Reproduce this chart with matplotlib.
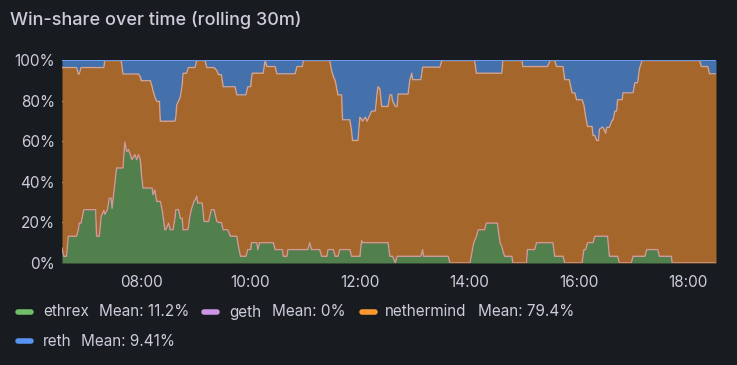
import matplotlib
matplotlib.use("Agg")
import matplotlib.pyplot as plt
import matplotlib.dates as mdates
from matplotlib.lines import Line2D
import numpy as np
import pandas as pd

plt.rcParams['font.family'] = ['Inter', 'DejaVu Sans']

title = "Win-share over time (rolling 30m)"

times = [
    "06:33", "06:35", "06:38", "06:40", "06:49", "06:51", "06:52", "06:54", "06:57", "07:10",
    "07:11", "07:14", "07:16", "07:19", "07:20", "07:23", "07:25", "07:27", "07:28", "07:30",
    "07:33", "07:38", "07:40", "07:42", "07:44", "07:46", "07:48", "07:50", "07:53", "07:55",
    "07:57", "07:59", "08:00", "08:01", "08:02", "08:10", "08:12", "08:13", "08:15", "08:17",
    "08:20", "08:21", "08:23", "08:26", "08:27", "08:30", "08:32", "08:35", "08:37", "08:38",
    "08:39", "08:41", "08:43", "08:45", "08:46", "08:50", "08:51", "08:52", "08:53", "08:55",
    "08:58", "08:59", "09:01", "09:02", "09:07", "09:09", "09:10", "09:12", "09:14", "09:17",
    "09:20", "09:23", "09:25", "09:28", "09:30", "09:35", "09:38", "09:43", "09:45", "09:46",
    "09:49", "09:55", "09:57", "10:00", "10:01", "10:02", "10:07", "10:08", "10:10", "10:14",
    "10:16", "10:18", "10:25", "10:27", "10:29", "10:35", "10:36", "10:40", "10:41", "10:49",
    "10:51", "10:57", "10:58", "11:03", "11:05", "11:07", "11:16", "11:18", "11:24", "11:25",
    "11:27", "11:29", "11:31", "11:33", "11:36", "11:38", "11:40", "11:41", "11:49", "11:51",
    "11:52", "11:58", "12:00", "12:02", "12:03", "12:06", "12:08", "12:10", "12:13", "12:17",
    "12:19", "12:20", "12:22", "12:24", "12:31", "12:33", "12:35", "12:36", "12:39", "12:41",
    "12:42", "12:53", "12:55", "12:57", "12:58", "13:07", "13:09", "13:10", "13:28", "13:30",
    "13:37", "13:39", "14:01", "14:05", "14:06", "14:08", "14:10", "14:17", "14:19", "14:31",
    "14:34", "14:36", "14:37", "14:39", "14:47", "14:48", "14:58", "14:59", "15:03", "15:04",
    "15:12", "15:14", "15:26", "15:29", "15:32", "15:34", "15:36", "15:43", "15:45", "15:50",
    "15:53", "15:56", "15:58", "16:04", "16:06", "16:07", "16:08", "16:10", "16:15", "16:16",
    "16:18", "16:20", "16:22", "16:23", "16:26", "16:27", "16:30", "16:31", "16:32", "16:34",
    "16:37", "16:38", "16:40", "16:42", "16:43", "16:45", "16:48", "16:49", "16:58", "17:00",
    "17:02", "17:05", "17:07", "17:10", "17:13", "17:15", "17:27", "17:29", "17:42", "17:43",
    "18:13", "18:15", "18:22", "18:24", "18:31",
]

ethrex = [
    7.4, 3.3, 3.3, 13.2, 13.2, 16.5, 19.7, 19.7, 26.3, 26.3,
    13.2, 13.2, 23, 26, 24, 26.3, 32, 32, 27, 35,
    46.9, 46.9, 46.9, 59.7, 55, 56, 53.5, 51, 53.5, 51,
    53.5, 51, 45, 41, 37, 37, 37, 33.7, 36, 30.4,
    30.4, 30.4, 26.3, 16.4, 16.4, 19.7, 16.4, 16.4, 22, 26.3,
    26.3, 26.3, 22, 22, 16.4, 16.4, 16.4, 18, 22, 26.3,
    30.4, 31, 33, 29.6, 29.6, 20.5, 20.5, 20.5, 20.5, 26.3,
    26.3, 20.5, 20, 20, 16.4, 16.4, 13.2, 13.2, 13.2, 10,
    3.3, 3.3, 6.6, 6.6, 10, 10, 10, 6.6, 10, 10,
    10, 10, 10, 6.6, 6.6, 6.6, 3.3, 3.3, 6.6, 6.6,
    6.6, 6.6, 6.6, 6.6, 10, 6.6, 6.6, 3.3, 3.3, 6.6,
    6.6, 6.6, 6.6, 3.3, 3.3, 6.6, 6.6, 6.6, 6.6, 3.3,
    3.3, 3.3, 3.3, 11, 10, 10, 10, 10, 10, 10,
    10, 10, 10, 10, 10, 3.3, 3.3, 3.3, 0, 3.3,
    3.3, 3.3, 3.3, 3.3, 3.3, 3.3, 6.6, 3.3, 3.3, 3.3,
    3.3, 0, 0, 9.9, 11, 13, 16.4, 16.4, 19.7, 19.7,
    9.9, 8, 6, 3.3, 3.3, 0, 0, 0, 0, 6.6,
    6.6, 10, 10, 10, 10, 3.3, 3.3, 3.3, 0, 0,
    0, 0, 0, 0, 6.6, 6.6, 6.6, 10, 10, 10,
    13.2, 13.2, 13.2, 13.2, 13.2, 13.2, 13.2, 13.2, 13.2, 3.3,
    3.3, 3.3, 3.3, 3.3, 3.3, 0, 0, 0, 0, 3.3,
    3.3, 3.3, 3.3, 3.3, 3.3, 6.6, 6.6, 3.3, 3.3, 0,
    0, 0, 0, 0, 0,
]

reth = [
    3.5, 3.5, 3.5, 3.5, 3.5, 6.7, 6.7, 3.5, 3.5, 3.5,
    3.5, 3.5, 3.5, 3.5, 0, 0, 0, 0, 0, 0,
    0, 0, 6.7, 6.7, 6.7, 6.7, 6.7, 6.7, 6.7, 6.7,
    6.7, 8, 10, 10, 10, 10, 13, 15, 18, 20.2,
    20.2, 30, 30, 30, 30, 30, 30, 30, 30, 28,
    22, 20, 18, 12, 6.3, 6.3, 4.5, 3.5, 3.5, 3.5,
    3.5, 3.5, 0, 0, 0, 0, 0, 3.5, 3.5, 3.5,
    3.5, 5, 7, 7, 13, 13, 13, 13, 17, 17,
    17, 17, 13, 13, 9, 6.3, 6.3, 6.3, 6.3, 6.3,
    0, 3, 3, 3, 6.6, 6.6, 6.6, 6.6, 6.6, 6.6,
    3, 3, 0, 0, 0, 0, 0, 0, 0, 0,
    0, 5, 8, 10, 17, 17, 17, 29.3, 29.3, 35,
    39.5, 39.5, 28, 29, 30, 28, 30, 28, 25, 25,
    16, 13, 14, 22.7, 22.7, 17, 17, 20, 22.7, 22.7,
    16.6, 16.6, 9.5, 6.3, 9.5, 9.5, 3.3, 3.3, 3.3, 0,
    0, 0, 0, 0, 0, 6.3, 6.3, 6.3, 6.3, 6.3,
    6.3, 6.3, 0, 0, 0, 0, 0, 3, 3, 3,
    3, 3, 3, 0, 0, 0, 3, 3, 9.5, 9.5,
    16, 16, 19.4, 19.4, 22, 25, 28, 32.6, 32.6, 37,
    37, 39.5, 39.5, 34, 33, 33, 36, 33, 33, 33,
    29.5, 29.5, 25, 25, 19.4, 19.4, 19.4, 16, 16, 16,
    11, 11, 4, 0, 0, 0, 0, 0, 0, 0,
    0, 3, 3, 6.6, 6.6,
]

nethermind = [
    89.1, 93.2, 93.2, 83.3, 83.3, 76.8, 73.6, 76.8, 70.2, 70.2,
    83.3, 83.3, 73.5, 70.5, 76, 73.7, 68, 68, 73, 65,
    53.1, 53.1, 46.4, 33.6, 38.3, 37.3, 39.8, 42.3, 39.8, 42.3,
    39.8, 41, 45, 49, 53, 53, 50, 51.3, 46, 49.4,
    49.4, 39.6, 43.7, 53.6, 53.6, 50.3, 53.6, 53.6, 48, 45.7,
    51.7, 53.7, 60, 66, 77.3, 77.3, 79.1, 78.5, 74.5, 70.2,
    66.1, 65.5, 67, 70.4, 70.4, 79.5, 79.5, 76, 76, 70.2,
    70.2, 74.5, 73, 73, 70.6, 70.6, 73.8, 73.8, 69.8, 73,
    79.7, 79.7, 80.4, 80.4, 81, 83.7, 83.7, 87.1, 83.7, 83.7,
    90, 87, 87, 90.4, 86.8, 86.8, 90.1, 90.1, 86.8, 86.8,
    90.4, 90.4, 93.4, 93.4, 90, 93.4, 93.4, 96.7, 96.7, 93.4,
    93.4, 88.4, 85.4, 86.7, 79.7, 76.4, 76.4, 64.1, 64.1, 61.7,
    57.2, 57.2, 68.7, 60, 60, 62, 60, 62, 65, 65,
    74, 77, 76, 67.3, 67.3, 79.7, 79.7, 76.7, 77.3, 74,
    80.1, 80.1, 87.2, 90.4, 87.2, 87.2, 90.1, 93.4, 93.4, 96.7,
    96.7, 100, 100, 90.1, 89, 80.7, 77.3, 77.3, 74, 74,
    83.8, 85.7, 94, 96.7, 96.7, 100, 100, 97, 97, 90.4,
    90.4, 87, 87, 90, 90, 96.7, 93.7, 93.7, 90.5, 90.5,
    84, 84, 80.6, 80.6, 71.4, 68.4, 65.4, 57.4, 57.4, 53,
    49.8, 47.3, 47.3, 52.8, 53.8, 53.8, 50.8, 53.8, 53.8, 63.7,
    67.2, 67.2, 71.7, 71.7, 77.3, 80.6, 80.6, 84, 84, 80.7,
    85.7, 85.7, 92.7, 96.7, 96.7, 93.4, 93.4, 96.7, 96.7, 100,
    100, 97, 97, 93.4, 93.4,
]

geth = [0.0] * len(times)

series_names = ["ethrex", "geth", "nethermind", "reth"]
series_means = ["Mean: 11.2%", "Mean: 0%", "Mean: 79.4%", "Mean: 9.41%"]
series_colors = ["#73bf69", "#ca95e5", "#ff9830", "#5794f2"]

BG = "#181b1f"
TXT = "#ccccdc"
fill_green = "#52804c"
fill_orange = "#a4662b"
fill_blue = "#4470ab"

t = pd.to_datetime(["2024-01-01 " + s for s in times])
e = np.array(ethrex, dtype=float)
g = np.array(geth, dtype=float)
n = np.array(nethermind, dtype=float)
r = np.array(reth, dtype=float)

s1 = e
s2 = s1 + g
s3 = s2 + n
s4 = s3 + r

fig = plt.figure(figsize=(7.37, 3.65), dpi=100, facecolor=BG)
ax = fig.add_axes([0.0841, 0.2795, 0.8874, 0.5548])
ax.set_facecolor(BG)

ax.fill_between(t, 0, s1, color=fill_green, linewidth=0, zorder=2)
ax.fill_between(t, s2, s3, color=fill_orange, linewidth=0, zorder=2)
ax.fill_between(t, s3, s4, color=fill_blue, linewidth=0, zorder=2)

ax.plot(t, s1, color="#cf9a9a", linewidth=1.0, zorder=3)
ax.plot(t, s3, color="#d9a38a", linewidth=1.0, zorder=3)
ax.plot(t, s4, color="#5794f2", linewidth=1.2, zorder=3)

ax.set_ylim(0, 100)
ax.set_xlim(t[0], t[-1])
ax.set_yticks([0, 20, 40, 60, 80, 100])
ax.set_yticklabels(["0%", "20%", "40%", "60%", "80%", "100%"])
ax.xaxis.set_major_locator(mdates.HourLocator(byhour=range(8, 19, 2)))
ax.xaxis.set_major_formatter(mdates.DateFormatter("%H:%M"))
ax.tick_params(axis="both", length=0, colors=TXT, labelsize=11)
ax.tick_params(axis="y", pad=5)
ax.tick_params(axis="x", pad=8.5)
for sp in ax.spines.values():
    sp.set_visible(False)
ax.grid(True, color=(0.8, 0.8, 0.86, 0.10), linewidth=0.8, zorder=1)
ax.set_axisbelow(True)

fig.text(10 / 737, 1 - 20 / 365, title, color=TXT, fontsize=13, fontweight="medium",
         ha="left", va="center")

W, H = 737, 365
marker_x = [16, 202, 360, 16]
name_x = [43, 229, 385, 43]
mean_x = [99, 272, 478, 81]
row_y = [312, 312, 312, 341]
for name, mean, col, mx, nx, vx, ly in zip(series_names, series_means, series_colors,
                                           marker_x, name_x, mean_x, row_y):
    fy = 1 - ly / H
    fig.add_artist(Line2D([(mx + 2) / W, (mx + 15) / W], [fy, fy], color=col, linewidth=4,
                          solid_capstyle="round", transform=fig.transFigure))
    fig.text(nx / W, fy, name, color=TXT, fontsize=11, ha="left", va="center")
    fig.text(vx / W, fy, mean, color=TXT, fontsize=11, ha="left", va="center")

fig.savefig("out.png", dpi=100, facecolor=BG)
